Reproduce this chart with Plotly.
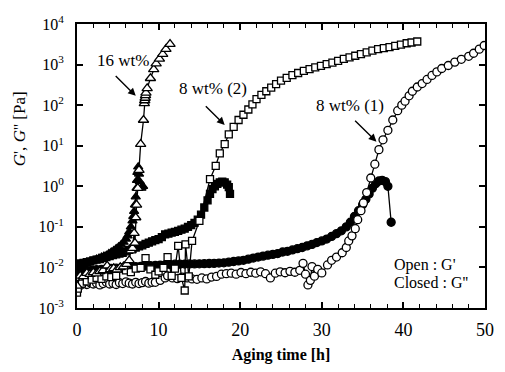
import plotly.graph_objects as go
import numpy as np

# ---------------- data ----------------
# 16 wt% : G' (open triangles)
t16_gp = [0, 0.4, 0.8, 1.2, 1.6, 2.0, 2.4, 2.8, 3.2, 3.7, 4.1, 4.5, 4.9, 5.3, 5.7, 6.1, 6.4, 6.6, 6.8, 7.0,
          7.1, 7.2, 7.3, 7.45, 7.6, 7.8, 8.15, 8.25, 8.3, 8.35, 8.4, 8.45, 8.6, 9.0, 9.4, 9.7, 10.1, 10.5, 10.9, 11.4]
g16_gp = [0.0035, 0.0062, 0.006, 0.0072, 0.0068, 0.0075, 0.007, 0.008, 0.0085, 0.011, 0.009, 0.0095, 0.0088, 0.01,
          0.0105, 0.012, 0.015, 0.026, 0.03, 0.07, 0.04, 0.17, 0.35, 0.9, 2.5, 11, 43, 110, 130, 150, 175, 200, 260,
          460, 760, 1050, 1380, 1800, 2400, 3200]
# 16 wt% : G'' (filled triangles)
t16_gpp = [0, 0.3, 0.6, 0.9, 1.2, 1.5, 1.8, 2.1, 2.4, 2.7, 3.0, 3.3, 3.6, 3.9, 4.2, 4.5, 4.8, 5.1, 5.4, 5.7, 6.0,
           6.2, 6.4, 6.6, 6.8, 6.9, 7.0, 7.1, 7.2, 7.3, 7.35, 7.4, 7.5, 7.6, 7.7, 7.9, 8.1]
g16_gpp = [0.011, 0.0115, 0.012, 0.0125, 0.013, 0.0135, 0.014, 0.015, 0.016, 0.017, 0.018, 0.019, 0.02, 0.022,
           0.024, 0.026, 0.029, 0.032, 0.036, 0.042, 0.05, 0.06, 0.075, 0.1, 0.14, 0.18, 0.24, 0.35, 0.55, 0.9,
           1.4, 2.2, 3.0, 2.0, 1.3, 0.9, 1.0]

# 8 wt% (2) : G' (open squares)
t82_gp = [0, 0.1, 0.6, 1.2, 1.8, 2.4, 3.0, 3.6, 4.2, 4.8, 5.4, 6.0, 6.6, 7.2, 7.8, 8.4, 9.0, 9.6, 10.0, 10.6,
          11.1, 11.6, 12.0, 12.4, 12.8, 13.2, 13.3, 13.7, 14.1, 15.0,
          16.3, 17.0, 17.5, 18.1, 18.6, 19.2, 19.8, 20.4, 21.0, 21.5, 22.0, 22.6, 23.2, 23.8, 24.4, 25.0, 25.7,
          26.4, 27.1, 27.8, 28.5, 29.2, 29.9, 30.6, 31.3, 32.0, 32.7, 33.4, 34.1, 34.8, 35.5, 36.2, 36.9, 37.6,
          38.3, 39.0, 39.7, 40.4, 41.0, 41.7]
g82_gp = [0.0024, 0.003, 0.004, 0.0045, 0.005, 0.0055, 0.0052, 0.006, 0.0058, 0.0062, 0.0093, 0.0085, 0.0077,
          0.0093, 0.0097, 0.017, 0.009, 0.0066, 0.008, 0.0097, 0.018, 0.0062, 0.0093, 0.034, 0.0055, 0.0027,
          0.037, 0.006, 0.045, 0.14,
          1.5, 3.2, 6.5, 11, 19, 29, 43, 58, 78, 105, 140, 180, 220, 270, 330, 400, 470, 550, 620, 700, 770,
          850, 930, 1030, 1120, 1240, 1380, 1500, 1650, 1800, 2000, 2200, 2400, 2550, 2700, 2900, 3100, 3350,
          3500, 3700]
# 8 wt% (2) : G'' (filled squares)
t82_gpp = [0, 0.4, 0.8, 1.2, 1.6, 2.0, 2.4, 2.8, 3.2, 3.6, 4.0, 4.4, 4.8, 5.2, 5.6, 6.0, 6.4, 6.8, 7.2, 7.6,
           8.0, 8.4, 8.8, 9.2, 9.6, 10.0, 10.4, 10.8, 11.2, 11.6, 12.0, 12.4, 12.8, 13.2, 13.6, 14.0, 14.4,
           14.8, 15.2, 15.6, 16.0, 16.3, 16.6, 16.9, 17.2, 17.5, 17.8, 18.1, 18.4, 18.6, 18.75]
g82_gpp = [0.012, 0.0125, 0.013, 0.0135, 0.014, 0.015, 0.0155, 0.016, 0.017, 0.018, 0.019, 0.02, 0.021, 0.022,
           0.023, 0.025, 0.027, 0.029, 0.031, 0.033, 0.035, 0.038, 0.041, 0.044, 0.047, 0.05, 0.056, 0.065,
           0.068, 0.072, 0.075, 0.08, 0.085, 0.09, 0.1, 0.11, 0.125, 0.15, 0.2, 0.3, 0.45,
           0.65, 0.85, 1.0, 1.15, 1.25, 1.3, 1.25, 1.1, 0.95, 0.65]

# 8 wt% (1) : G' (open circles)
t81_gp = [0, 0.4, 0.8, 1.2, 1.6, 2.0, 2.4, 2.8, 3.2, 3.6, 4.0, 4.4, 4.8, 5.2, 5.6, 6.0, 6.4, 6.8, 7.2, 7.6,
          8.0, 8.4, 8.8, 9.2,
          9.6, 10.2, 10.8, 11.1, 11.7, 12.3, 12.9, 13.5, 14.1, 14.7, 15.3, 15.9, 16.5, 17.1, 17.7, 18.3, 18.9,
          19.5, 20.1, 20.7, 21.3, 21.9, 22.5, 23.1, 23.7, 24.3, 24.9, 25.5, 26.1, 26.7, 27.3, 27.7, 28.0, 28.3,
          28.6, 28.8, 29.1, 29.5, 30.0,
          30.7, 31.2, 31.8, 32.5, 33.0, 33.3, 33.7, 34.1, 34.4, 34.8, 35.1, 35.5, 36.0, 36.5, 37.0, 37.5, 38.1,
          38.7, 39.3, 39.8, 40.2, 40.7, 41.1, 41.7, 42.3, 42.9, 43.5, 44.1, 44.7, 45.5, 46.3, 47.1, 48.0, 48.6,
          49.3, 49.9]
g81_gp = [0.0038, 0.0036, 0.004, 0.0038, 0.0042, 0.0039, 0.0041, 0.0037, 0.004, 0.0043, 0.0039, 0.0041, 0.0038,
          0.0042, 0.004, 0.0044, 0.0041, 0.0039, 0.0043, 0.004, 0.0042, 0.0045, 0.0041, 0.0043,
          0.0043, 0.0048, 0.0055, 0.0062, 0.0055, 0.0053, 0.0058, 0.0055, 0.0052, 0.0051, 0.0055, 0.0052,
          0.0058, 0.006, 0.0068, 0.007, 0.0072, 0.0068, 0.0075, 0.007, 0.0076, 0.0072, 0.0078, 0.007, 0.0055,
          0.0072, 0.0078, 0.0074, 0.008, 0.0076, 0.0085, 0.0126, 0.0068, 0.0037, 0.0048, 0.0105, 0.0061, 0.009,
          0.0073,
          0.0115, 0.015, 0.018, 0.023, 0.031, 0.045, 0.06, 0.09, 0.15, 0.25, 0.39, 0.7, 1.6, 3.5, 8, 14, 24, 43,
          73, 100, 125, 170, 220, 280, 340, 430, 540, 660, 800, 950, 1150, 1350, 1600, 1900, 2400, 2950]
# 8 wt% (1) : G'' (filled circles)
t81_gpp = [0, 0.6, 1.2, 1.8, 2.4, 3.0, 3.6, 4.2, 4.8, 5.4, 6.0, 6.6, 7.2, 7.8, 8.4, 9.0, 9.6, 10.2, 10.8, 11.4,
           12.0, 12.6, 13.2, 13.8, 14.4, 15.0, 15.6, 16.2, 16.8, 17.4, 18.0, 18.6, 19.2, 19.8, 20.4, 21.0, 21.6,
           22.2, 22.8, 23.4, 24.0, 24.6, 25.2, 25.8, 26.4, 27.0, 27.6, 28.2, 28.8, 29.4, 30.0,
           30.6, 31.2, 31.8, 32.4, 33.0, 33.5, 34.0, 34.5, 35.0, 35.4, 35.8, 36.2, 36.6, 37.0, 37.4, 37.8, 38.1,
           38.5]
g81_gpp = [0.008, 0.0082, 0.0084, 0.0086, 0.0088, 0.009, 0.0092, 0.0094, 0.0096, 0.0098, 0.01, 0.0102, 0.0104,
           0.0106, 0.0108, 0.011, 0.0112, 0.0114, 0.0116, 0.0118, 0.012, 0.012, 0.0121, 0.0122, 0.0122, 0.0123,
           0.0124, 0.0125, 0.0126, 0.0128, 0.013, 0.0135, 0.014, 0.0145, 0.015, 0.016, 0.017, 0.018, 0.019, 0.02,
           0.021, 0.022, 0.024, 0.025, 0.027, 0.029, 0.031, 0.034, 0.037, 0.041, 0.045,
           0.05, 0.058, 0.068, 0.08, 0.1, 0.13, 0.18, 0.25, 0.35, 0.48, 0.65, 0.9, 1.15, 1.35, 1.4, 1.3, 1.0, 0.13]

y_tickvals = [1e-3, 1e-2, 1e-1, 1e0, 1e1, 1e2, 1e3, 1e4]
y_ticktext = ["10<sup>-3</sup>", "10<sup>-2</sup>", "10<sup>-1</sup>", "10<sup>0</sup>",
              "10<sup>1</sup>", "10<sup>2</sup>", "10<sup>3</sup>", "10<sup>4</sup>"]
x_tickvals = [0, 10, 20, 30, 40, 50]

for a, b in [(t16_gp, g16_gp), (t16_gpp, g16_gpp), (t82_gp, g82_gp), (t82_gpp, g82_gpp),
             (t81_gp, g81_gp), (t81_gpp, g81_gpp)]:
    assert len(a) == len(b), (len(a), len(b))

FONT = "Liberation Serif"
fig = go.Figure()


def add(t, g, symbol, filled, size=8):
    fig.add_trace(go.Scatter(
        x=t, y=g, mode="lines+markers",
        line=dict(color="black", width=1.3),
        marker=dict(symbol=symbol, size=size,
                    color="black" if filled else "white",
                    line=dict(color="black", width=1.3)),
        showlegend=False, hoverinfo="skip"))


add(t81_gpp, g81_gpp, "circle", True)
add(t82_gpp, g82_gpp, "square", True, 7)
add(t16_gpp, g16_gpp, "triangle-up", True)
add(t81_gp, g81_gp, "circle", False)
add(t82_gp, g82_gp, "square", False, 7)
add(t16_gp, g16_gp, "triangle-up", False, 9)

L = np.log10


def label(text, x, y, tx, ty, hx, hy):
    fig.add_annotation(x=x, y=L(y), text=text, showarrow=False,
                       font=dict(family=FONT, size=17, color="black"))
    fig.add_annotation(x=hx, y=L(hy), ax=tx, ay=L(ty), axref="x", ayref="y",
                       text="", showarrow=True, arrowhead=2, arrowsize=1.1,
                       arrowwidth=1.4, arrowcolor="black")


label("16 wt%", 5.6, 10 ** 3.09, 4.56, 10 ** 2.755, 7.2, 10 ** 2.23)
label("8 wt% (2)", 16.7, 10 ** 2.42, 15.6, 10 ** 2.01, 18.1, 10 ** 1.51)
label("8 wt% (1)", 33.5, 10 ** 1.99, 33.9, 10 ** 1.65, 36.7, 10 ** 1.10)

fig.add_annotation(x=38.6, y=L(10 ** -1.945), text="Open : G'", showarrow=False, xanchor="left",
                   font=dict(family=FONT, size=16, color="black"))
fig.add_annotation(x=38.6, y=L(10 ** -2.376), text="Closed : G''", showarrow=False, xanchor="left",
                   font=dict(family=FONT, size=16, color="black"))

# y-axis title as annotation (positioned like the reference)
fig.add_annotation(xref="paper", yref="paper", x=-0.17, y=0.63, textangle=-90,
                   text="<i>G</i>', <i>G</i>'' [Pa]", showarrow=False,
                   font=dict(family=FONT, size=17, color="black"))

fig.update_xaxes(range=[0, 50], tickvals=x_tickvals, ticks="inside", ticklen=6, tickwidth=1.5,
                 showline=True, linewidth=2, linecolor="black", mirror="allticks",
                 showgrid=False, zeroline=False,
                 minor=dict(dtick=2, ticks="inside", ticklen=4, tickwidth=1.2, tickcolor="black", showgrid=False),
                 tickcolor="black", ticklabelstandoff=4,
                 tickfont=dict(family=FONT, size=18, color="black"),
                 title=dict(text="<b>Aging time [h]</b>", standoff=10,
                            font=dict(family=FONT, size=16, color="black")))
fig.update_yaxes(type="log", range=[-3, 4], tickvals=y_tickvals, ticktext=y_ticktext,
                 ticks="inside", ticklen=6, tickwidth=1.5, tickcolor="black",
                 showline=True, linewidth=2, linecolor="black", mirror="allticks",
                 showgrid=False, zeroline=False, ticklabelstandoff=8,
                 tickfont=dict(family=FONT, size=16, color="black"))

fig.update_layout(width=505, height=372, margin=dict(l=77, r=11, t=24, b=56),
                  plot_bgcolor="white", paper_bgcolor="white")

fig.write_html("out.html")
